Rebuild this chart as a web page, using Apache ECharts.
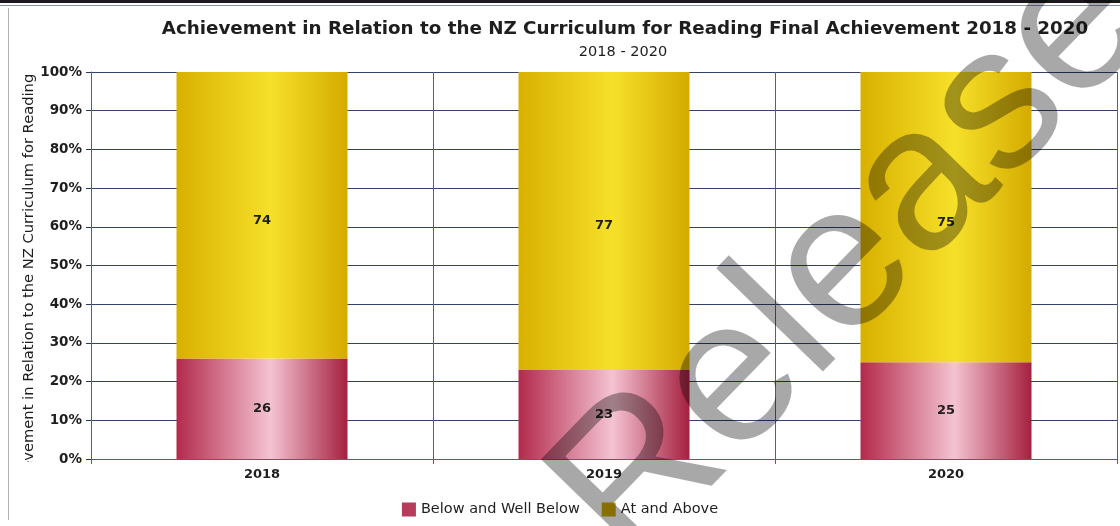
<!DOCTYPE html>
<html>
<head>
<meta charset="utf-8">
<script src="https://cdn.jsdelivr.net/npm/echarts@6/dist/echarts.min.js"></script>
<style>
html,body{margin:0;padding:0;background:#fff;}
#chart{width:1120px;height:526px;}
</style>
</head>
<body>
<div id="chart"></div>
<script>
var years = ['2018', '2019', '2020'];
var belowData = [26, 23, 25];
var aboveData = [74, 77, 75];
var yTicks = [0, 10, 20, 30, 40, 50, 60, 70, 80, 90, 100];

var fontFam = '"DejaVu Sans", Verdana, sans-serif';

function barGrad(edge, mid, edge2) {
    return new echarts.graphic.LinearGradient(0, 0, 1, 0, [
        {offset: 0, color: edge},
        {offset: 0.55, color: mid},
        {offset: 1, color: edge2}
    ]);
}

var chart = echarts.init(document.getElementById('chart'), null, {renderer: 'canvas'});
var option = {
    animation: false,
    backgroundColor: '#fff',
    title: [
        {
            text: 'Achievement in Relation to the NZ Curriculum for Reading Final Achievement 2018 - 2020',
            left: 620, top: 15, textAlign: 'center',
            textStyle: {fontFamily: fontFam, fontSize: 18.3, fontWeight: 'bold', color: '#1e1e1e'}
        },
        {
            text: '2018 - 2020',
            left: 618, top: 40, textAlign: 'center',
            textStyle: {fontFamily: fontFam, fontSize: 14.5, fontWeight: 'normal', color: '#1e1e1e'}
        }
    ],
    legend: {
        left: 'center', top: 497,
        itemWidth: 14, itemHeight: 14, itemGap: 22,
        icon: 'rect',
        textStyle: {fontFamily: fontFam, fontSize: 14.5, color: '#1e1e1e'},
        data: [
            {name: 'Below and Well Below', itemStyle: {color: '#b73b5a'}},
            {name: 'At and Above', itemStyle: {color: '#cda900'}}
        ]
    },
    grid: {left: 91, right: 3, top: 72, bottom: 67},
    xAxis: {
        type: 'category',
        data: years,
        axisLine: {lineStyle: {color: '#3b64b0', width: 1}},
        axisTick: {show: true, length: 5, lineStyle: {color: '#3b64b0'}},
        axisLabel: {fontFamily: fontFam, fontSize: 13, fontWeight: 'bold', color: '#1e1e1e', margin: 9},
        splitLine: {show: true, lineStyle: {color: '#3b64b0', width: 1}}
    },
    yAxis: {
        type: 'value',
        min: yTicks[0], max: yTicks[yTicks.length - 1], interval: 10,
        axisLine: {show: true, lineStyle: {color: '#3b64b0', width: 1}},
        axisTick: {show: true, length: 5, lineStyle: {color: '#2a3558'}},
        axisLabel: {formatter: '{value}%', fontFamily: fontFam, fontSize: 13.5, fontWeight: 'bold', color: '#1e1e1e', margin: 9},
        splitLine: {show: true, lineStyle: {color: '#34416e', width: 1}}
    },
    series: [
        {
            name: 'Below and Well Below',
            type: 'bar', stack: 'total',
            barWidth: '50%',
            data: belowData,
            itemStyle: {color: barGrad('#b32a4c', '#f4c3d2', '#a5203f')},
            label: {show: true, position: 'inside', fontFamily: fontFam, fontSize: 13, fontWeight: 'bold', color: '#1e1e1e'}
        },
        {
            name: 'At and Above',
            type: 'bar', stack: 'total',
            barWidth: '50%',
            data: aboveData,
            itemStyle: {color: barGrad('#d8b000', '#f6e02a', '#d4ab00')},
            label: {show: true, position: 'inside', offset: [0, 5], fontFamily: fontFam, fontSize: 13, fontWeight: 'bold', color: '#1e1e1e'}
        }
    ],
    graphic: [
        // scanned frame lines
        {type: 'rect', shape: {x: 0, y: 0, width: 1120, height: 3}, style: {fill: '#1a1a1a'}, z: 50},
        {type: 'rect', shape: {x: 0, y: 5, width: 1120, height: 1}, style: {fill: '#8090b0'}, z: 50},
        {type: 'rect', shape: {x: 8, y: 8, width: 1, height: 512}, style: {fill: '#b0b0b0'}, z: 50},
        // y axis name (cut off at bottom like the scan)
        {
            type: 'text', x: 29, y: 501, rotation: Math.PI / 2, z: 40,
            style: {
                text: 'Achievement in Relation to the NZ Curriculum for Reading',
                fontFamily: fontFam, fontSize: 14.7, fill: '#1e1e1e',
                textAlign: 'left', textVerticalAlign: 'middle'
            }
        },
        {type: 'rect', shape: {x: 15, y: 462, width: 30, height: 64}, style: {fill: '#fff'}, z: 41},
        // watermark
        {
            type: 'text', x: 590, y: 530, rotation: 0.80, z: 100,
            style: {
                text: 'Released',
                fontFamily: '"Liberation Sans", Arial, sans-serif', fontSize: 205,
                fill: 'rgba(0,0,0,0.34)', textAlign: 'left', textVerticalAlign: 'middle'
            }
        }
    ]
};
chart.setOption(option);
</script>
</body>
</html>
